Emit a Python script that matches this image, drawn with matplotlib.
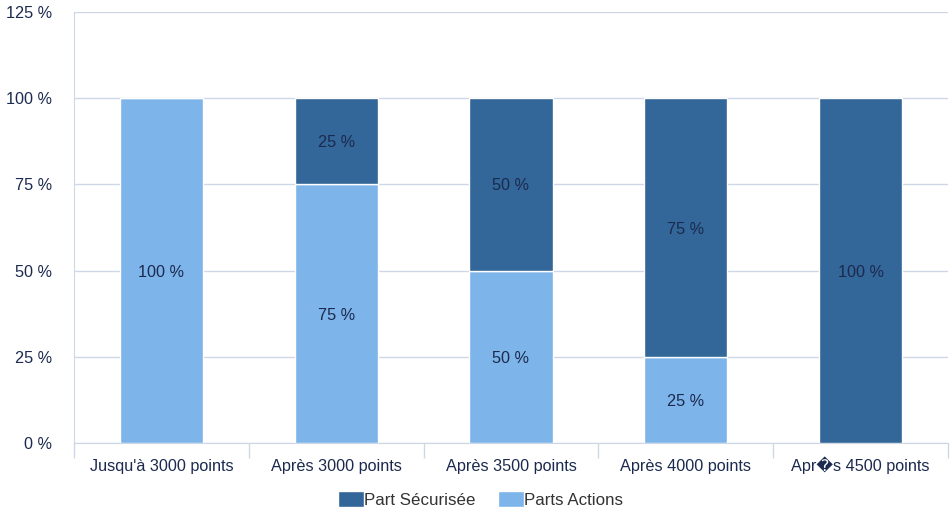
import matplotlib
matplotlib.use("Agg")
import matplotlib.pyplot as plt
import numpy as np

categories = ["Jusqu'à 3000 points", "Après 3000 points", "Après 3500 points",
              "Après 4000 points", "Apr\ufffds 4500 points"]
actions = [100, 75, 50, 25, 0]
securisee = [0, 25, 50, 75, 100]
yticks = [0, 25, 50, 75, 100, 125]

plt.rcParams['font.family'] = ['Liberation Sans', 'DejaVu Sans']
txt = '#1b2a4e'
grid = '#cdd7e6'
c_dark = '#336699'
c_light = '#7db4ea'
fs = 11.7

fig = plt.figure(figsize=(9.5, 5.12), dpi=100)
ax = fig.add_axes([74/950, 1-443/512, (948-74)/950, (443-12)/512])

x = np.arange(len(categories))
w = 0.475
b1 = ax.bar(x, actions, w, color=c_light, edgecolor='white', linewidth=1, zorder=3, label='Parts Actions')
b2 = ax.bar(x, securisee, w, bottom=actions, color=c_dark, edgecolor='white', linewidth=1, zorder=3, label='Part Sécurisée')

for i in range(len(x)):
    if actions[i] > 0:
        ax.text(x[i], actions[i]/2, f"{actions[i]} %", ha='center', va='center_baseline', color=txt, fontsize=fs, zorder=4)
    if securisee[i] > 0:
        ax.text(x[i], actions[i] + securisee[i]/2, f"{securisee[i]} %", ha='center', va='center_baseline', color=txt, fontsize=fs, zorder=4)

ax.set_xlim(-0.5, len(categories)-0.5)
ax.set_ylim(0, 125)
ax.set_yticks(yticks)
ax.set_yticklabels([f"{v} %" for v in yticks], color=txt, fontsize=fs)
ax.set_xticks(x)
ax.set_xticklabels(categories, color=txt, fontsize=fs, va='baseline')
ax.set_xticks(np.arange(len(categories)+1) - 0.5, minor=True)
ax.tick_params(axis='x', which='major', length=0, pad=20.5)
ax.tick_params(axis='x', which='minor', length=11, color=grid, width=1)
ax.tick_params(axis='y', length=0, pad=16)
ax.grid(axis='y', color=grid, linewidth=1, zorder=0)
for s in ['top', 'right']:
    ax.spines[s].set_visible(False)
ax.spines['left'].set_color(grid)
ax.spines['bottom'].set_color(grid)

handles = [b2, b1]
ax.legend(handles, ['Part Sécurisée', 'Parts Actions'], loc='center', bbox_to_anchor=(0.465, -0.131),
          ncol=2, frameon=False, fontsize=12.2, handlelength=1.5, handleheight=1.05,
          handletextpad=0.0, columnspacing=1.35, labelcolor='#333333')

fig.savefig('out.png', dpi=100)
